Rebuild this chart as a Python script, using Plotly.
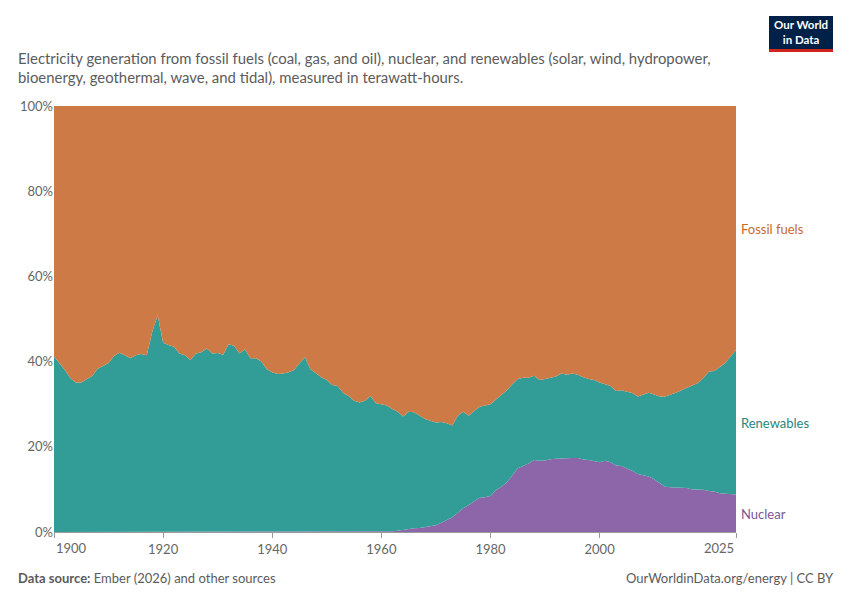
import plotly.graph_objects as go

# share of electricity generation, %
years = list(range(1900, 2026))

nuclear = [
    0, 0, 0, 0, 0, 0, 0, 0, 0, 0,
    0, 0, 0, 0, 0, 0, 0, 0, 0, 0,
    0, 0, 0, 0, 0, 0, 0, 0, 0, 0,
    0, 0, 0, 0, 0, 0, 0, 0, 0, 0,
    0, 0, 0, 0, 0, 0, 0, 0, 0, 0,
    0, 0, 0, 0, 0, 0.0, 0.01, 0.02, 0.04, 0.06,
    0.08, 0.1, 0.16, 0.31, 0.55, 0.7, 0.86, 0.94, 1.1, 1.41,
    1.56, 2.19, 2.82, 3.44, 4.54, 5.56, 6.34, 7.28, 8.06, 8.14,
    8.45, 9.86, 10.6, 11.65, 13.4, 14.95, 15.5, 16.1, 16.9, 16.7,
    16.8, 17.1, 17.2, 17.3, 17.3, 17.4, 17.4, 17.0, 16.9, 16.7,
    16.4, 16.7, 16.4, 15.6, 15.5, 14.9, 14.4, 13.6, 13.3, 13.0,
    12.4, 11.4, 10.6, 10.5, 10.5, 10.4, 10.3, 10.0, 10.0, 9.9,
    9.6, 9.5, 9.1, 9.0, 8.9, 8.8,
]

renewables = [
    41.2, 39.6, 38.0, 36.1, 35.1, 35.1, 35.8, 36.6, 38.3, 39.0,
    39.7, 41.3, 42.1, 41.5, 40.8, 41.5, 41.8, 41.5, 47.0, 50.9,
    44.4, 43.9, 43.5, 41.9, 41.5, 40.4, 41.9, 42.2, 43.1, 41.9,
    42.0, 41.6, 44.1, 43.7, 41.9, 42.9, 40.8, 40.8, 40.0, 38.2,
    37.5, 37.1, 37.2, 37.5, 38.0, 39.6, 41.0, 38.2, 37.2, 36.3,
    35.7, 34.5, 34.3, 32.6, 31.9, 30.8, 30.39, 30.78, 31.86, 30.14,
    29.92, 29.6, 28.74, 27.89, 26.55, 27.5, 27.24, 26.26, 25.4, 24.69,
    24.14, 23.61, 22.68, 21.56, 22.76, 22.64, 20.96, 21.12, 21.34, 21.56,
    21.55, 21.24, 21.6, 21.65, 21.3, 20.95, 20.7, 20.1, 19.8, 19.0,
    19.1, 19.1, 19.3, 19.9, 19.6, 19.8, 19.5, 19.3, 19.0, 19.0,
    18.7, 18.0, 17.9, 17.5, 17.8, 18.0, 18.2, 18.2, 19.0, 19.7,
    19.9, 20.4, 21.2, 21.7, 22.2, 22.9, 23.6, 24.5, 25.0, 26.2,
    28.0, 28.3, 29.5, 30.6, 32.3, 33.9,
]

fossil = [
    58.8, 60.4, 62.0, 63.9, 64.9, 64.9, 64.2, 63.4, 61.7, 61.0,
    60.3, 58.7, 57.9, 58.5, 59.2, 58.5, 58.2, 58.5, 53.0, 49.1,
    55.6, 56.1, 56.5, 58.1, 58.5, 59.6, 58.1, 57.8, 56.9, 58.1,
    58.0, 58.4, 55.9, 56.3, 58.1, 57.1, 59.2, 59.2, 60.0, 61.8,
    62.5, 62.9, 62.8, 62.5, 62.0, 60.4, 59.0, 61.8, 62.8, 63.7,
    64.3, 65.5, 65.7, 67.4, 68.1, 69.2, 69.6, 69.2, 68.1, 69.8,
    70.0, 70.3, 71.1, 71.8, 72.9, 71.8, 71.9, 72.8, 73.5, 73.9,
    74.3, 74.2, 74.5, 75.0, 72.7, 71.8, 72.7, 71.6, 70.6, 70.3,
    70.0, 68.9, 67.8, 66.7, 65.3, 64.1, 63.8, 63.8, 63.3, 64.3,
    64.1, 63.8, 63.5, 62.8, 63.1, 62.8, 63.1, 63.7, 64.1, 64.3,
    64.9, 65.3, 65.7, 66.9, 66.7, 67.1, 67.4, 68.2, 67.7, 67.3,
    67.7, 68.2, 68.2, 67.8, 67.3, 66.7, 66.1, 65.5, 65.0, 63.9,
    62.4, 62.2, 61.4, 60.4, 58.8, 57.3,
]

x_ticks = [1900, 1920, 1940, 1960, 1980, 2000, 2025]
y_ticks = [0, 20, 40, 60, 80, 100]
y_labels = ["0%", "20%", "40%", "60%", "80%", "100%"]

series = [
    ("Nuclear", nuclear, "#8c66a8", "#7b5699"),
    ("Renewables", renewables, "#329d96", "#28857f"),
    ("Fossil fuels", fossil, "#cd7a46", "#c66a2e"),
]

fig = go.Figure()
for name, vals, fill, _ in series:
    fig.add_trace(go.Scatter(
        x=years, y=vals, name=name, mode="lines",
        stackgroup="one", groupnorm="percent",
        line=dict(width=0, color=fill), fillcolor=fill,
        hoverinfo="skip",
    ))

# the page body adds an 8px margin, so the figure is a bit smaller than the window
grey = "#666666"
fig.update_layout(
    width=834, height=584,
    margin=dict(l=46, r=106, t=98, b=60),
    paper_bgcolor="white", plot_bgcolor="white",
    font=dict(family="Lato, 'Noto Sans', sans-serif", color=grey, size=13),
    showlegend=False,
    xaxis=dict(
        range=[1900, 2025], tickvals=x_ticks,
        ticktext=["", "1920", "1940", "1960", "1980", "2000", ""],
        showgrid=False, zeroline=False,
        showline=True, linecolor="#9a9a9a", linewidth=1,
        ticks="outside", ticklen=5, tickcolor="#9a9a9a",
        tickfont=dict(size=13, color=grey), layer="above traces",
    ),
    yaxis=dict(
        range=[0, 100], tickvals=y_ticks, ticktext=y_labels,
        showgrid=True, gridcolor="rgba(0,0,0,0.13)", griddash="dash",
        zeroline=False, showline=False, ticks="",
        tickfont=dict(size=13, color=grey), layer="above traces",
    ),
)

# end tick labels, aligned inside the axis like the original
fig.add_annotation(x=1900, y=0, xref="x", yref="paper", text="1900",
                   showarrow=False, xanchor="left", yanchor="top", yshift=-6,
                   font=dict(size=13, color=grey))
fig.add_annotation(x=2025, y=0, xref="x", yref="paper", text="2025",
                   showarrow=False, xanchor="right", yanchor="top", yshift=-6,
                   font=dict(size=13, color=grey))

# series labels on the right
label_y = {"Fossil fuels": 71.1, "Renewables": 25.6, "Nuclear": 4.2}
for name, _, _, txt in series:
    fig.add_annotation(x=1, y=label_y[name], xref="paper", yref="y",
                       text=name, showarrow=False, xanchor="left", xshift=3,
                       font=dict(size=13, color=txt))

# subtitle
fig.add_annotation(
    x=-54 / 682, y=1, xref="paper", yref="paper",
    text=("Electricity generation from fossil fuels (coal, gas, and oil), nuclear, and renewables (solar, wind, hydropower,"
          "<br>bioenergy, geothermal, wave, and tidal), measured in terawatt-hours."),
    showarrow=False, xanchor="left", yanchor="bottom", align="left",
    xshift=16, yshift=18,
    font=dict(size=14.9, color="#5b5b5b"),
)

# footer
fig.add_annotation(
    x=-54 / 682, y=0, xref="paper", yref="paper",
    text="<b>Data source:</b> Ember (2026) and other sources",
    showarrow=False, xanchor="left", yanchor="top", xshift=16, yshift=-36,
    font=dict(size=13, color="#5b5b5b"),
)
fig.add_annotation(
    x=1, y=0, xref="paper", yref="paper",
    text="OurWorldinData.org/energy | CC BY",
    showarrow=False, xanchor="right", yanchor="top", xshift=100, yshift=-36,
    font=dict(size=13, color="#5b5b5b"),
)

# logo
fig.add_shape(type="rect", xref="paper", yref="paper",
              x0=(769 - 54) / 682, x1=(833 - 54) / 682,
              y0=(532 - 16) / 426, y1=(532 - 49) / 426,
              fillcolor="#002147", line=dict(width=0), layer="above")
fig.add_shape(type="rect", xref="paper", yref="paper",
              x0=(769 - 54) / 682, x1=(833 - 54) / 682,
              y0=(532 - 49) / 426, y1=(532 - 52) / 426,
              fillcolor="#ce261e", line=dict(width=0), layer="above")
fig.add_annotation(
    x=(801 - 54) / 682, y=(532 - 32.5) / 426, xref="paper", yref="paper",
    text="<b>Our World<br>in Data</b>", showarrow=False,
    xanchor="center", yanchor="middle", align="center",
    font=dict(size=11.5, color="white", family="Lato, sans-serif"),
)

fig.write_html("out.html")
